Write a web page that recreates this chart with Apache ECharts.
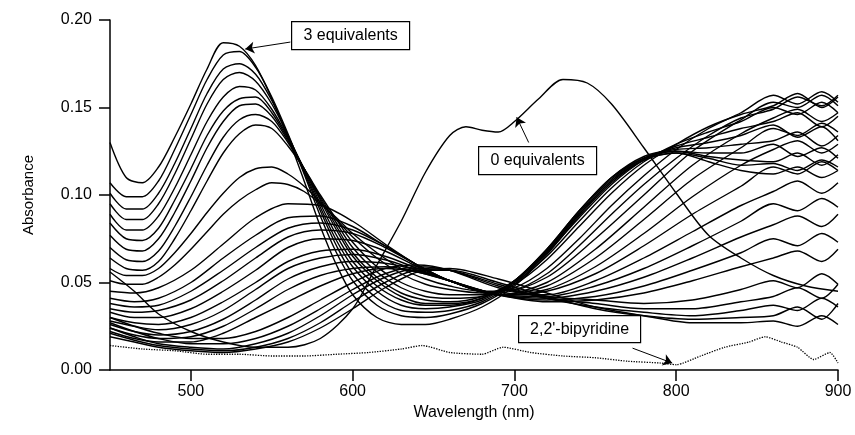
<!DOCTYPE html>
<html>
<head>
<meta charset="utf-8">
<script src="https://cdn.jsdelivr.net/npm/echarts@6/dist/echarts.min.js"></script>
<style>
  html, body { margin: 0; padding: 0; background: #fff; }
  #chart { width: 855px; height: 435px; }
</style>
</head>
<body>
<div id="chart"></div>
<script>
// wavelength grids (nm)
const wlLate = [450, 460, 470, 480, 490, 500, 510, 520, 530, 540, 550, 560, 570, 580, 590, 600, 615, 630, 645, 660, 680, 700, 720, 740, 760, 780, 800, 820, 840, 860, 875, 890, 900]
const wlMid = [450, 465, 480, 500, 520, 540, 560, 580, 600, 620, 640, 660, 690, 720, 750, 780, 810, 840, 860, 875, 890, 900]
const wlZero = [450, 465, 480, 500, 520, 540, 560, 580, 600, 615, 630, 645, 660, 670, 680, 690, 700, 715, 730, 745, 760, 780, 800, 820, 840, 860, 880, 900]
const wlBipy = [450, 470, 490, 510, 530, 550, 570, 590, 610, 630, 643, 660, 680, 693, 710, 730, 750, 770, 790, 800, 815, 830, 845, 855, 865, 875, 885, 895, 900]

// late titration spectra (band at ~520 nm), top one = 3 equivalents
const lateSpectra = [
  [.130, .110, .107, .116, .133, .152, .172, .187, .185, .174, .155, .133, .108, .082, .060, .043, .030, .026, .026, .029, .036, .048, .066, .088, .107, .120, .124, .119, .114, .112, .116, .110, .114],
  [.107, .099, .099, .108, .126, .146, .166, .180, .182, .173, .156, .135, .112, .088, .067, .051, .037, .031, .030, .032, .038, .049, .067, .089, .108, .120, .124, .121, .117, .118, .114, .120, .116],
  [.101, .092, .092, .101, .118, .138, .158, .172, .175, .169, .154, .134, .113, .091, .071, .055, .041, .034, .033, .034, .039, .050, .068, .090, .109, .121, .125, .122, .120, .119, .124, .117, .123],
  [.095, .086, .086, .095, .112, .132, .152, .166, .170, .165, .152, .134, .114, .093, .074, .059, .045, .037, .035, .036, .040, .051, .069, .091, .110, .121, .125, .124, .124, .129, .122, .127, .121],
  [.089, .080, .080, .088, .104, .123, .142, .156, .162, .160, .149, .133, .115, .095, .077, .062, .048, .040, .037, .037, .041, .051, .069, .091, .110, .122, .126, .127, .129, .131, .136, .128, .134],
  [.084, .075, .074, .081, .097, .115, .134, .148, .155, .156, .147, .132, .115, .097, .080, .065, .051, .042, .038, .038, .041, .051, .068, .089, .108, .121, .127, .130, .134, .140, .133, .139, .131],
  [.077, .069, .068, .075, .090, .108, .127, .142, .151, .152, .145, .131, .115, .098, .082, .067, .053, .044, .040, .039, .042, .051, .067, .087, .106, .120, .128, .133, .138, .142, .147, .139, .145],
  [.070, .063, .062, .068, .082, .099, .117, .133, .143, .146, .142, .130, .115, .099, .084, .070, .056, .047, .042, .041, .042, .050, .065, .085, .104, .119, .129, .136, .142, .150, .146, .153, .147],
  [.064, .058, .057, .062, .075, .091, .108, .124, .135, .140, .138, .128, .115, .100, .086, .073, .059, .050, .045, .043, .043, .049, .063, .082, .101, .117, .129, .139, .146, .151, .158, .150, .156],
  [.058, .054, .054, .058, .067, .078, .090, .101, .110, .115, .116, .112, .105, .096, .086, .076, .064, .055, .049, .046, .044, .047, .058, .075, .094, .111, .126, .138, .147, .157, .152, .159, .153],
  [.051, .049, .049, .053, .060, .069, .079, .089, .097, .103, .107, .106, .102, .095, .087, .078, .067, .058, .052, .048, .045, .046, .055, .071, .089, .106, .121, .134, .144, .149, .156, .151, .157]
]

// intermediate spectra (broad ~580 nm band, strong NIR band)
const midSpectra = [
  [.045, .044, .047, .057, .072, .087, .095, .094, .085, .072, .060, .051, .044, .053, .075, .100, .125, .143, .153, .150, .157, .151],
  [.041, .039, .041, .050, .064, .077, .087, .088, .082, .071, .060, .051, .043, .050, .069, .093, .117, .135, .144, .149, .142, .147],
  [.038, .036, .037, .045, .057, .070, .081, .084, .080, .071, .060, .051, .043, .048, .064, .086, .109, .127, .138, .134, .141, .136],
  [.035, .033, .034, .040, .051, .064, .076, .080, .078, .070, .060, .051, .043, .046, .059, .078, .099, .117, .126, .131, .124, .129],
  [.033, .030, .030, .035, .045, .057, .070, .075, .074, .068, .059, .051, .043, .045, .055, .071, .089, .105, .116, .112, .119, .114],
  [.030, .027, .026, .030, .039, .050, .062, .068, .069, .065, .058, .051, .043, .043, .051, .064, .079, .094, .102, .108, .101, .107],
  [.028, .025, .023, .026, .034, .046, .058, .064, .066, .063, .057, .051, .043, .042, .048, .058, .071, .085, .095, .091, .098, .093],
  [.026, .022, .020, .022, .029, .040, .052, .059, .062, .061, .057, .051, .043, .041, .045, .053, .064, .076, .083, .088, .082, .089],
  [.024, .020, .018, .019, .025, .035, .046, .054, .058, .059, .056, .051, .043, .040, .042, .048, .057, .067, .075, .071, .078, .073],
  [.022, .018, .016, .016, .021, .030, .039, .048, .055, .058, .056, .051, .043, .039, .040, .044, .051, .059, .064, .068, .062, .069]
]

// early spectra (weak ~650 nm band)
const earlySpectra = [
  [.030, .025, .021, .018, .018, .022, .030, .040, .050, .058, .060, .057, .047, .042, .040, .038, .040, .046, .051, .047, .055, .049],
  [.027, .022, .018, .015, .015, .018, .025, .035, .046, .055, .059, .057, .048, .041, .038, .035, .035, .039, .042, .047, .041, .049],
  [.024, .019, .015, .013, .012, .015, .021, .031, .043, .053, .058, .057, .049, .041, .036, .033, .031, .034, .037, .034, .041, .036],
  [.021, .017, .014, .012, .011, .013, .018, .027, .039, .050, .057, .057, .050, .042, .035, .031, .029, .030, .031, .036, .029, .038],
  [.019, .016, .013, .011, .010, .012, .016, .024, .035, .047, .056, .058, .052, .044, .036, .031, .027, .027, .028, .025, .031, .026]
]

// 0 equivalents
const zeroEq = [.056, .045, .032, .022, .016, .013, .013, .018, .035, .060, .085, .113, .134, .139, .137, .136, .142, .155, .166, .164, .152, .127, .101, .077, .064, .054, .048, .045]

// 2,2'-bipyridine alone
const bipy = [.014, .012, .011, .009, .009, .008, .008, .009, .010, .012, .014, .010, .009, .013, .010, .008, .007, .005, .004, .003, .008, .013, .016, .019, .016, .013, .006, .010, .004]

const xTicks = [500, 600, 700, 800, 900]

const pairs = (wl, vals) => wl.map((w, i) => [w, vals[i]])
const FONT = 'Liberation Sans'

const curveStyle = { color: '#000', width: 1.4 }
function spectrum(wl, vals, extra) {
  return Object.assign({
    type: 'line',
    data: pairs(wl, vals),
    showSymbol: false,
    symbol: 'none',
    smooth: 0.3,
    lineStyle: curveStyle,
    silent: true,
    z: 2,
  }, extra || {})
}

const series = []
lateSpectra.forEach(v => series.push(spectrum(wlLate, v)))
midSpectra.forEach(v => series.push(spectrum(wlMid, v)))
earlySpectra.forEach(v => series.push(spectrum(wlMid, v)))
series.push(spectrum(wlBipy, bipy, {
  smooth: 0.2,
  lineStyle: { color: '#000', width: 1.3, type: 'dotted' },
}))
series.push(spectrum(wlZero, zeroEq, {
  markLine: {
    silent: true,
    symbol: ['none', 'arrow'],
    symbolSize: 9,
    label: { show: false },
    lineStyle: { color: '#000', width: 1, type: 'solid' },
    data: [
      [{ coord: [561.5, 0.1874] }, { coord: [533.6, 0.1834] }],
      [{ coord: [708.8, 0.130] }, { coord: [701.4, 0.1444] }],
      [{ coord: [773.0, 0.0125] }, { coord: [797.5, 0.0040] }],
    ],
  },
}))

// boxed annotation labels (pixel layout)
function labelBox(left, top, w, h, text) {
  return {
    type: 'group',
    left, top,
    children: [
      { type: 'rect', shape: { x: 0, y: 0, width: w, height: h }, style: { fill: '#fff', stroke: '#000', lineWidth: 1.2 } },
      { type: 'text', x: w / 2, y: h / 2, style: { text, fill: '#000', font: '16px "' + FONT + '"', align: 'center', verticalAlign: 'middle' } },
    ],
    z: 10,
  }
}

const chart = echarts.init(document.getElementById('chart'))
chart.setOption({
  animation: false,
  backgroundColor: '#fff',
  textStyle: { fontFamily: FONT },
  grid: { left: 110, right: 17, top: 20, bottom: 65 },
  xAxis: {
    type: 'value',
    min: 450,
    max: 900,
    name: 'Wavelength (nm)',
    nameLocation: 'middle',
    nameGap: 33,
    nameTextStyle: { color: '#000', fontSize: 16, fontFamily: FONT },
    axisLine: { lineStyle: { color: '#000', width: 1.5 } },
    axisTick: { show: true, inside: false, length: 11, customValues: xTicks, lineStyle: { color: '#000', width: 1.5 } },
    axisLabel: { customValues: xTicks, color: '#000', fontSize: 16, margin: 14, fontFamily: FONT },
    splitLine: { show: false },
  },
  yAxis: {
    type: 'value',
    min: 0,
    max: 0.2,
    interval: 0.05,
    name: 'Absorbance',
    nameLocation: 'middle',
    nameGap: 74,
    nameRotate: 90,
    nameTextStyle: { color: '#000', fontSize: 15, fontFamily: FONT },
    axisLine: { show: true, lineStyle: { color: '#000', width: 1.5 } },
    axisTick: { show: true, inside: false, length: 11, lineStyle: { color: '#000', width: 1.5 } },
    axisLabel: { color: '#000', fontSize: 16, margin: 18, fontFamily: FONT, formatter: v => v.toFixed(2) },
    splitLine: { show: false },
  },
  graphic: [
    labelBox(291, 21, 118, 28, '3 equivalents'),
    labelBox(478, 146, 118, 28, '0 equivalents'),
    labelBox(518, 315, 122, 27, "2,2'-bipyridine"),
  ],
  series,
})
</script>
</body>
</html>
